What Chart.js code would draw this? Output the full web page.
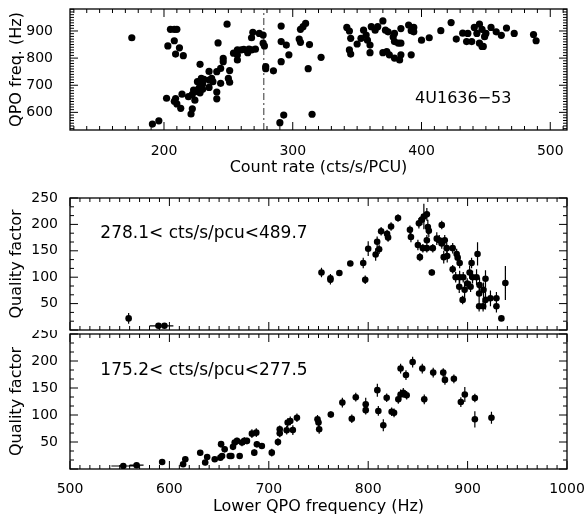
<!DOCTYPE html>
<html>
<head>
<meta charset="utf-8">
<title>4U1636-53 QPO</title>
<script src="https://cdn.jsdelivr.net/npm/chart.js@4.4.0/dist/chart.umd.min.js"></script>
<style>
  html, body { margin: 0; padding: 0; background: #fff; }
  #wrap { position: relative; width: 587px; height: 516px; overflow: hidden; }
  .panel { position: absolute; left: 0; width: 587px; }
</style>
</head>
<body>
<div id="wrap">
  <div class="panel" style="top:0;height:180px"><canvas id="rate-chart"></canvas></div>
  <div class="panel" style="top:180px;height:154px"><canvas id="high-chart"></canvas></div>
  <div class="panel" style="top:330px;height:186px"><canvas id="low-chart"></canvas></div>
</div>
<script>
// --- top panel: QPO frequency vs count rate ---
const rateCounts = [
  175, 205, 208, 210, 208, 203, 212, 209, 215, 249, 242,
  269, 268, 274, 277, 277, 278, 257, 260, 262, 266, 268, 271,
  254, 257, 265, 246, 246, 257, 228, 244, 251, 241, 235,
  250, 251, 244, 229, 231, 235, 237, 238, 230, 226, 228, 227, 235, 223, 226, 228, 222, 230,
  241, 241, 202, 209, 208, 210, 213, 214, 219, 222, 221, 224, 191, 196,
  290, 293, 291, 279, 279, 285, 291, 291, 295, 297, 305, 306, 308, 310, 306,
  313, 312, 315, 322,
  342, 344, 345, 344, 345, 350, 353, 355, 357, 358, 360, 360, 361, 364, 366, 370, 372, 374,
  370, 373, 375, 379, 383, 384, 379, 382, 384, 379, 378, 384, 390, 392, 394, 394, 392,
  400, 406, 415, 423, 427, 432, 435, 436, 439, 441, 443, 445, 447, 445, 447, 448, 449, 450,
  454, 458, 462, 466, 472, 487, 489
];
const rateFreqs = [
  875, 906, 906, 906, 864, 845, 838, 815, 809, 925, 856,
  895, 875, 891, 885, 855, 845, 830, 830, 832, 833, 830, 833,
  818, 811, 820, 799, 787, 793, 777, 762, 754, 750, 751,
  725, 711, 707, 725, 722, 719, 725, 713, 705, 713, 697, 688, 692, 682, 676, 672, 666, 685,
  675, 650, 652, 651, 641, 631, 615, 667, 658, 613, 594, 645, 557, 569,
  562, 590, 918, 761, 769, 753, 861, 787, 848, 812, 870, 858, 916, 928, 906,
  850, 761, 593, 803,
  913, 900, 873, 830, 815, 852, 873, 903, 885, 866, 848, 820, 916, 903, 916, 937, 903, 897,
  820, 824, 812, 800, 793, 812, 861, 855, 855, 891, 878, 909, 922, 901, 913, 897, 812,
  866, 875, 901, 931, 870, 892, 861, 891, 861, 913, 891, 925, 906, 855, 843, 843, 879, 891,
  913, 897, 884, 911, 891, 887, 864
];
const rateTicksX = [200, 300, 400, 500];
const rateTicksY = [600, 700, 800, 900];
const rateRangeX = [127, 513];
const rateRangeY = [535, 981];
const cutRate = 277.5;

// --- middle panel: 278.1 < cts/s/pcu < 489.7 ---
const highFreq = [
  559, 589, 595, 753, 762, 762, 771, 782, 795, 797, 800, 807.5, 809, 811, 813, 819, 820, 823, 830,
  842, 843, 850, 852, 851, 854, 856, 859, 860, 861, 859, 855, 859, 864, 865,
  869, 871.5, 874, 874, 876, 877, 879, 879.5, 885, 889, 890, 892,
  885, 888, 892, 891.6, 895.6, 897, 895, 899.6, 902, 904, 905, 903,
  910, 909, 912, 911.6, 916, 918, 911.6, 915.6, 918, 923, 929, 929, 934, 938
];
const highQ = [
  22, 8, 8, 109, 95, 98, 108, 126, 127, 95, 154, 143, 167, 153, 187, 182, 175, 196, 212,
  190, 176, 161, 138, 202, 209, 215, 219, 195, 188, 170, 155, 155, 109, 155,
  173, 170, 199, 164, 138, 170, 155, 140, 155, 144, 137, 127,
  115, 100, 100, 82, 100, 76, 57, 88, 109, 127, 100, 82,
  144, 100, 85, 69, 76, 97, 45, 45, 57, 60, 60, 45, 22, 89
];
const highQErr = [
  10, 3, 3, 9, 9, 8, 5, 5, 10, 8, 14, 12, 10, 9, 8, 8, 8, 8, 7,
  8, 10, 10, 8, 10, 10, 24, 12, 14, 12, 10, 8, 8, 6, 8,
  12, 10, 8, 10, 12, 10, 10, 12, 10, 10, 10, 10,
  8, 10, 12, 12, 10, 14, 8, 10, 12, 10, 12, 10,
  22, 15, 14, 14, 14, 16, 10, 10, 18, 15, 12, 12, 5, 32
];
const highFreqErr = [
  0, 9, 9, 0, 0, 0, 0, 0, 0, 0, 0, 0, 0, 0, 0, 0, 0, 0, 0,
  0, 0, 0, 0, 0, 0, 0, 0, 0, 0, 0, 0, 0, 0, 0,
  0, 0, 0, 0, 0, 0, 0, 0, 0, 0, 0, 0,
  0, 0, 0, 0, 0, 0, 0, 0, 0, 0, 0, 0,
  0, 0, 0, 0, 0, 0, 0, 0, 0, 0, 0, 0, 0, 0
];

// --- bottom panel: 175.2 < cts/s/pcu < 277.5 ---
const lowFreq = [
  553.6, 567, 592.7, 613.8, 616, 631, 636, 638, 645.6, 651.3, 652, 653, 655.6,
  660.7, 662.3, 664, 665.7, 668, 670.7, 673, 675.4, 678, 683, 687.4, 685.4, 688, 693,
  703, 709.2, 711, 711, 718, 719, 721.6, 724.2, 728.3, 749, 750, 750.7, 762.4, 774,
  783.5, 787.5, 797.5, 797.5, 809.2, 810.2, 815.2, 818.6, 823.6, 826, 830.3,
  832.6, 832.6, 835.3, 838, 838.7, 844.7, 854.4, 856.4, 865.4, 875.5, 877.2, 886.2,
  893.2, 897.2, 907.3, 907.3, 924
];
const lowQ = [
  5.6, 7, 13, 8.7, 18, 30, 12, 22, 18, 21, 46, 24, 36.5,
  24, 24, 41, 49, 52, 24, 49, 52, 52, 65.5, 67.3, 30.3, 45.7, 42.6,
  30.3, 50, 73.5, 66, 71.7, 86, 89, 72, 95, 92, 86, 73.5, 101, 123,
  93, 133, 120, 109, 146, 107.5, 81, 132, 106, 104, 129,
  186, 138, 141, 174, 136.5, 198, 186, 129, 178.5, 178.5, 165, 167,
  124, 138, 131.5, 92, 95
];
const lowQErr = [
  2, 2, 3, 4, 5, 5, 5, 5, 4, 5, 6, 5, 6,
  5, 5, 6, 6, 6, 5, 7, 7, 6, 8, 8, 6, 6, 5,
  7, 7, 7, 7, 8, 8, 8, 9, 8, 8, 8, 8, 6, 9,
  8, 8, 12, 8, 12, 9, 11, 8, 8, 8, 8,
  9, 9, 9, 9, 8, 10, 9, 9, 9, 8, 9, 8,
  9, 14, 8, 15, 11
];
const lowFreqErr = [
  12, 7, 0, 0, 0, 0, 0, 0, 0, 0, 0, 0, 0,
  0, 0, 0, 0, 0, 0, 0, 0, 0, 0, 0, 0, 0, 0,
  0, 0, 0, 0, 0, 0, 0, 0, 0, 0, 0, 0, 0, 0,
  0, 0, 0, 0, 0, 0, 0, 0, 0, 0, 0,
  0, 0, 0, 0, 0, 0, 0, 0, 0, 0, 0, 0,
  0, 0, 0, 0, 0
];
const qpoTicksX = [500, 600, 700, 800, 900, 1000];
const qTicksY = [50, 100, 150, 200, 250];
const qpoRangeX = [500, 1000];
const qRangeY = [0, 250];

const FONT = "'DejaVu Sans', sans-serif";
const tickFont = { family: FONT, size: 14 };
const titleFont = { family: FONT, size: 16 };

function toPoints(xs, ys) {
    return xs.map((x, i) => ({ x, y: ys[i] }));
}

// IDL style frame: box on all sides with inward major/minor ticks
const idlFrame = {
    id: 'idlFrame',
    afterDatasetsDraw(chart, args, opts) {
        const { ctx, chartArea: a, scales: { x, y } } = chart;
        ctx.save();
        ctx.strokeStyle = '#000';
        ctx.lineWidth = 1.3;
        ctx.strokeRect(a.left, a.top, a.right - a.left, a.bottom - a.top);
        ctx.lineWidth = 1;
        ctx.beginPath();
        const walk = (scale, minor, major, fn) => {
            const start = Math.ceil(scale.min / minor - 1e-6);
            for (let i = start; i * minor <= scale.max + 1e-6; i++) {
                const v = i * minor;
                const isMajor = Math.abs(v / major - Math.round(v / major)) < 1e-6;
                fn(scale.getPixelForValue(v), isMajor ? 8 : 4);
            }
        };
        walk(x, opts.xMinor, opts.xMajor, (px, len) => {
            ctx.moveTo(px, a.bottom); ctx.lineTo(px, a.bottom - len);
            ctx.moveTo(px, a.top); ctx.lineTo(px, a.top + len);
        });
        walk(y, opts.yMinor, opts.yMajor, (py, len) => {
            ctx.moveTo(a.left, py); ctx.lineTo(a.left + len, py);
            ctx.moveTo(a.right, py); ctx.lineTo(a.right - len, py);
        });
        ctx.stroke();
        ctx.restore();
    }
};

const errorBars = {
    id: 'errorBars',
    beforeDatasetsDraw(chart) {
        const { ctx, chartArea: a, scales: { x, y } } = chart;
        ctx.save();
        ctx.beginPath();
        ctx.rect(a.left, a.top, a.right - a.left, a.bottom - a.top);
        ctx.clip();
        ctx.strokeStyle = '#000';
        ctx.lineWidth = 1.2;
        chart.data.datasets.forEach(ds => {
            if (!ds.errY) return;
            ctx.beginPath();
            ds.data.forEach((p, i) => {
                const px = x.getPixelForValue(p.x);
                const py = y.getPixelForValue(p.y);
                const ey = ds.errY[i] || 0;
                const ex = ds.errX ? ds.errX[i] || 0 : 0;
                if (ey) {
                    ctx.moveTo(px, y.getPixelForValue(p.y - ey));
                    ctx.lineTo(px, y.getPixelForValue(p.y + ey));
                }
                if (ex) {
                    ctx.moveTo(x.getPixelForValue(p.x - ex), py);
                    ctx.lineTo(x.getPixelForValue(p.x + ex), py);
                }
            });
            ctx.stroke();
        });
        ctx.restore();
    }
};

const panelLabel = {
    id: 'panelLabel',
    afterDatasetsDraw(chart, args, opts) {
        if (!opts.text) return;
        const { ctx, scales: { x, y } } = chart;
        ctx.save();
        ctx.fillStyle = '#000';
        ctx.font = `${opts.size || 16}px ${FONT}`;
        ctx.textAlign = 'left';
        ctx.textBaseline = 'middle';
        ctx.fillText(opts.text, x.getPixelForValue(opts.x), y.getPixelForValue(opts.y));
        ctx.restore();
    }
};

function fixedTicks(values) {
    return scale => { scale.ticks = values.map(v => ({ value: v })); };
}

function makePanel(canvasId, cfg) {
    const canvas = document.getElementById(canvasId);
    if (!canvas) return null;
    return new Chart(canvas.getContext('2d'), {
        type: 'scatter',
        data: { datasets: cfg.datasets },
        options: {
            responsive: true,
            maintainAspectRatio: false,
            animation: false,
            events: [],
            layout: { padding: { top: cfg.padTop, right: 20, left: 0, bottom: 0 } },
            scales: {
                x: {
                    type: 'linear',
                    min: cfg.xRange[0],
                    max: cfg.xRange[1],
                    display: cfg.xLabels !== false,
                    grid: { display: false },
                    border: { display: false },
                    afterBuildTicks: fixedTicks(cfg.xTicks),
                    afterFit: s => { s.height = cfg.xHeight; s.paddingLeft = 0; s.paddingRight = 0; },
                    ticks: { color: '#000', font: tickFont, padding: cfg.xTickPad, maxRotation: 0, callback: v => String(v) },
                    title: {
                        display: !!cfg.xTitle,
                        text: cfg.xTitle || '',
                        color: '#000',
                        font: titleFont,
                        padding: { top: 0, bottom: cfg.xTitlePad }
                    }
                },
                y: {
                    type: 'linear',
                    min: cfg.yRange[0],
                    max: cfg.yRange[1],
                    grid: { display: false },
                    border: { display: false },
                    afterBuildTicks: fixedTicks(cfg.yTicks),
                    afterFit: s => { s.width = 70; s.paddingTop = 0; s.paddingBottom = 0; },
                    ticks: { color: '#000', font: tickFont, padding: cfg.yTickPad, callback: v => String(v) },
                    title: {
                        display: true,
                        text: cfg.yTitle,
                        color: '#000',
                        font: titleFont,
                        padding: { top: 7, bottom: 0 }
                    }
                }
            },
            plugins: {
                legend: { display: false },
                tooltip: { enabled: false },
                idlFrame: cfg.frame,
                panelLabel: cfg.label
            }
        },
        plugins: [errorBars, idlFrame, panelLabel]
    });
}

makePanel('rate-chart', {
    padTop: 9,
    xRange: rateRangeX, yRange: rateRangeY,
    xTicks: rateTicksX, yTicks: rateTicksY,
    xHeight: 50, xTickPad: 5, xTitlePad: 3, yTickPad: 9,
    xTitle: 'Count rate (cts/s/PCU)',
    yTitle: 'QPO freq. (Hz)',
    frame: { xMinor: 10, xMajor: 100, yMinor: 10, yMajor: 100 },
    label: { text: '4U1636\u221253', x: 395, y: 649, size: 16 },
    datasets: [
        {
            data: toPoints(rateCounts, rateFreqs),
            backgroundColor: '#000', borderColor: '#000',
            pointRadius: 3.6, pointBorderWidth: 0
        },
        {
            type: 'line',
            data: [{ x: cutRate, y: rateRangeY[0] }, { x: cutRate, y: rateRangeY[1] }],
            borderColor: '#555', borderWidth: 1.2,
            borderDash: [7, 3, 2, 3],
            pointRadius: 0, fill: false
        }
    ]
});

makePanel('high-chart', {
    padTop: 18,
    xRange: qpoRangeX, yRange: qRangeY,
    xTicks: qpoTicksX, yTicks: qTicksY,
    xLabels: false, xHeight: 0, xTickPad: 0, xTitlePad: 0, yTickPad: 4,
    yTitle: 'Quality factor',
    frame: { xMinor: 10, xMajor: 100, yMinor: 50 / 3, yMajor: 50 },
    label: { text: '278.1< cts/s/pcu<489.7', x: 530.5, y: 183, size: 17 },
    datasets: [{
        data: toPoints(highFreq, highQ),
        errY: highQErr, errX: highFreqErr,
        backgroundColor: '#000', borderColor: '#000',
        pointRadius: 3.3, pointBorderWidth: 0
    }]
});

makePanel('low-chart', {
    padTop: 3,
    xRange: qpoRangeX, yRange: qRangeY,
    xTicks: qpoTicksX, yTicks: qTicksY,
    xHeight: 47, xTickPad: 4, xTitlePad: 0, yTickPad: 4,
    xTitle: 'Lower QPO frequency (Hz)',
    yTitle: 'Quality factor',
    frame: { xMinor: 10, xMajor: 100, yMinor: 50 / 3, yMajor: 50 },
    label: { text: '175.2< cts/s/pcu<277.5', x: 530.5, y: 183, size: 17 },
    datasets: [{
        data: toPoints(lowFreq, lowQ),
        errY: lowQErr, errX: lowFreqErr,
        backgroundColor: '#000', borderColor: '#000',
        pointRadius: 3.3, pointBorderWidth: 0
    }]
});
</script>
</body>
</html>
